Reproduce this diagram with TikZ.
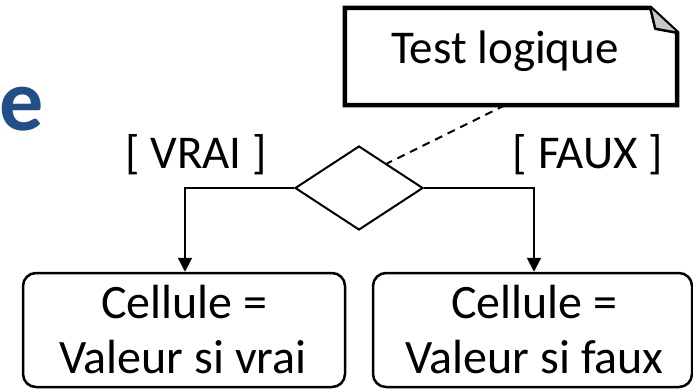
\documentclass[tikz,border=0pt]{standalone}
\usepackage{fontspec}
\setmainfont{Carlito}
\usetikzlibrary{arrows.meta,shapes.geometric,calc}
\definecolor{titleblue}{RGB}{33,79,134}
\definecolor{foldgray}{RGB}{200,200,200}
\begin{document}
\begin{tikzpicture}[x=1pt,y=-1pt,
  txt/.style={inner sep=0pt, anchor=base, font=\fontsize{47}{56}\selectfont},
  boxtxt/.style={txt, font=\fontsize{48}{56}\selectfont},
  cellbox/.style={draw, line width=2.5pt, rounded corners=13pt, minimum width=#1, minimum height=114pt, inner sep=0pt},
  decision/.style={draw, diamond, line width=2pt, minimum width=128pt, minimum height=84pt, inner sep=0pt},
  flow/.style={line width=2pt, -{Triangle[length=14pt,width=14pt]}},
  link/.style={line width=2pt, dash pattern=on 8pt off 6pt},
  notebody/.style={minimum width=332pt, minimum height=97pt, inner sep=0pt}
]
\useasboundingbox (0,0) rectangle (693,389);
% partial title letter
\node[inner sep=0pt, anchor=base east, text=titleblue, font=\fontsize{88}{100}\selectfont\bfseries] (title) at (44,130) {e};
% note
\node[notebody] (note) at (511,56.5) {};
\draw[line width=4.5pt, line join=miter] (note.north west) -- ([xshift=-27pt]note.north east) coordinate (fa)
  -- ([yshift=-25pt]note.north east) coordinate (fb) -- (note.south east) -- (note.south west) -- cycle;
\coordinate (fc) at ($(fa)!0.5!(fb)+(-8.5pt,-8.5pt)$);
\draw[line width=2.5pt, fill=foldgray, line join=round] (fa) -- (fc) -- (fb);
\node[txt] (notetxt) at (505,63) {Test logique};
% decision
\node[decision] (dia) at (359,188) {};
% guards
\node[txt] (gv) at (196,168) {[ VRAI ]};
\node[txt] (gf) at (588,168) {[ FAUX ]};
% boxes
\node[cellbox=322pt] (vrai) at (184,330) {};
\node[cellbox=319pt] (faux) at (532.5,330) {};
\node[boxtxt] (v1) at (184.5,318) {Cellule =};
\node[boxtxt] (v2) at (183,373) {Valeur si vrai};
\node[boxtxt] (f1) at (534.5,318) {Cellule =};
\node[boxtxt] (f2) at (534.5,373) {Valeur si faux};
% connectors
\draw[flow] (dia.west) -| ([xshift=1pt]vrai.north);
\draw[flow] (dia.east) -| ([xshift=1.5pt]faux.north);
\coordinate (dend) at ($(dia.north)!0.43!(dia.east)$);
\draw[link] ([xshift=-6pt]note.south) -- (dend);
\end{tikzpicture}
\end{document}
